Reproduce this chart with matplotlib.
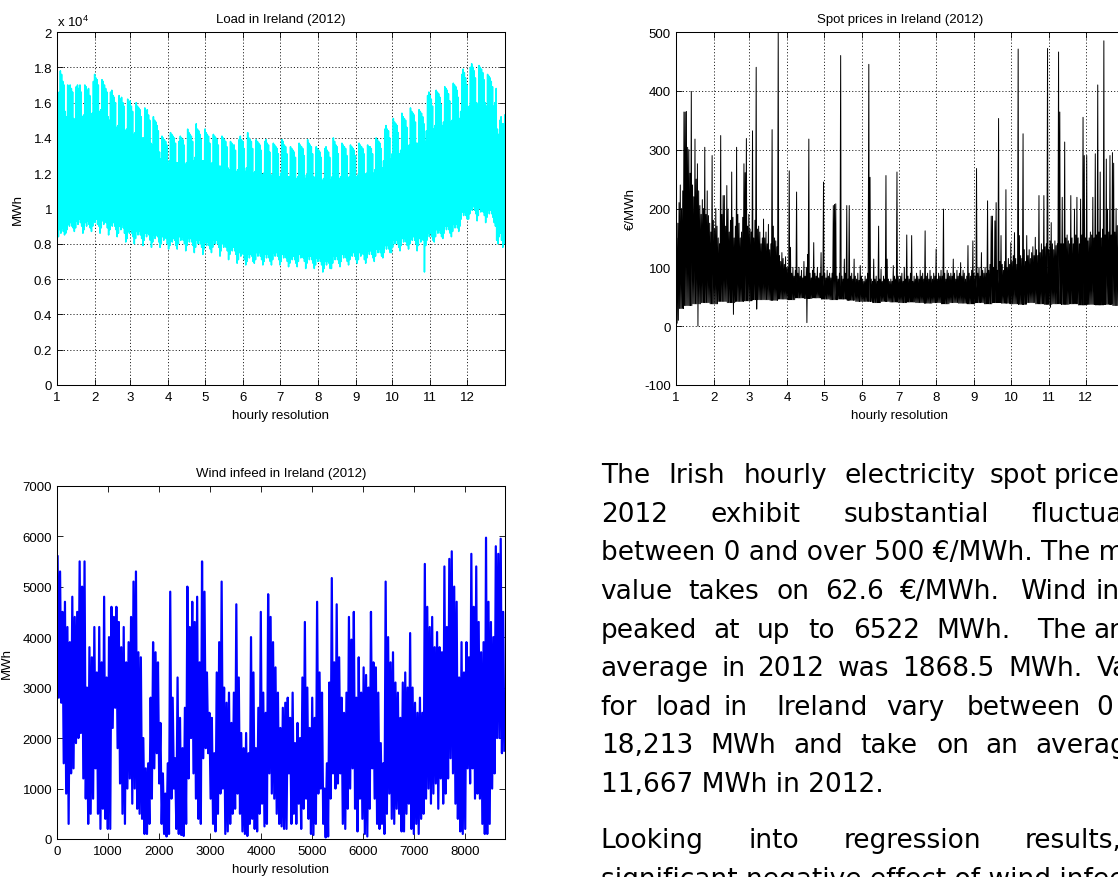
import numpy as np
import matplotlib
matplotlib.use('Agg')
import matplotlib.pyplot as plt
from matplotlib.ticker import FuncFormatter

plt.rcParams['font.family'] = 'Liberation Sans'
plt.rcParams['lines.scale_dashes'] = False
plt.rcParams['axes.unicode_minus'] = False

# ---- calendar 2012, hourly index starting at 1 ----
n_hours = 8784
month_start = [1, 745, 1441, 2185, 2905, 3649, 4369, 5113, 5857, 6577, 7321, 8041]
month_labels = ['1', '2', '3', '4', '5', '6', '7', '8', '9', '10', '11', '12']

# ---- load: daily evening peak, one row per week (Sun..Sat), in 1e4 MWh ----
load_peak_rows = [
    [1.52, 1.66, 1.78, 1.76, 1.72, 1.70, 1.55],
    [1.52, 1.70, 1.69, 1.70, 1.68, 1.66, 1.51],
    [1.50, 1.69, 1.70, 1.68, 1.70, 1.66, 1.52],
    [1.53, 1.70, 1.69, 1.67, 1.68, 1.64, 1.50],
    [1.54, 1.72, 1.76, 1.74, 1.73, 1.70, 1.55],
    [1.56, 1.73, 1.72, 1.70, 1.68, 1.66, 1.52],
    [1.50, 1.66, 1.67, 1.64, 1.63, 1.60, 1.46],
    [1.47, 1.64, 1.62, 1.63, 1.60, 1.58, 1.44],
    [1.45, 1.62, 1.60, 1.61, 1.58, 1.55, 1.42],
    [1.43, 1.60, 1.58, 1.57, 1.56, 1.52, 1.40],
    [1.40, 1.57, 1.55, 1.56, 1.53, 1.50, 1.37],
    [1.36, 1.52, 1.50, 1.49, 1.47, 1.44, 1.32],
    [1.28, 1.41, 1.40, 1.39, 1.38, 1.36, 1.25],
    [1.27, 1.43, 1.42, 1.41, 1.40, 1.37, 1.26],
    [1.26, 1.38, 1.41, 1.40, 1.39, 1.36, 1.25],
    [1.26, 1.45, 1.43, 1.42, 1.41, 1.38, 1.27],
    [1.29, 1.48, 1.45, 1.44, 1.42, 1.39, 1.27],
    [1.27, 1.45, 1.43, 1.42, 1.41, 1.37, 1.25],
    [1.26, 1.42, 1.41, 1.40, 1.39, 1.36, 1.24],
    [1.24, 1.41, 1.40, 1.39, 1.38, 1.35, 1.23],
    [1.22, 1.38, 1.37, 1.36, 1.36, 1.33, 1.21],
    [1.22, 1.39, 1.41, 1.39, 1.38, 1.34, 1.21],
    [1.23, 1.43, 1.40, 1.39, 1.38, 1.34, 1.20],
    [1.21, 1.39, 1.38, 1.37, 1.36, 1.33, 1.19],
    [1.20, 1.38, 1.39, 1.37, 1.36, 1.32, 1.19],
    [1.19, 1.37, 1.36, 1.35, 1.34, 1.31, 1.18],
    [1.20, 1.39, 1.38, 1.36, 1.35, 1.31, 1.18],
    [1.18, 1.35, 1.34, 1.33, 1.32, 1.29, 1.17],
    [1.18, 1.37, 1.36, 1.35, 1.34, 1.30, 1.17],
    [1.19, 1.39, 1.37, 1.36, 1.35, 1.31, 1.18],
    [1.17, 1.35, 1.34, 1.33, 1.32, 1.29, 1.16],
    [1.17, 1.34, 1.35, 1.33, 1.32, 1.29, 1.16],
    [1.18, 1.40, 1.38, 1.36, 1.35, 1.31, 1.17],
    [1.18, 1.37, 1.36, 1.35, 1.34, 1.30, 1.17],
    [1.18, 1.36, 1.35, 1.34, 1.33, 1.30, 1.18],
    [1.19, 1.37, 1.36, 1.35, 1.34, 1.31, 1.19],
    [1.20, 1.36, 1.35, 1.35, 1.34, 1.31, 1.20],
    [1.22, 1.40, 1.39, 1.38, 1.37, 1.34, 1.23],
    [1.27, 1.45, 1.47, 1.45, 1.44, 1.40, 1.28],
    [1.31, 1.51, 1.49, 1.48, 1.47, 1.43, 1.31],
    [1.33, 1.54, 1.52, 1.51, 1.50, 1.46, 1.34],
    [1.36, 1.57, 1.55, 1.54, 1.53, 1.49, 1.37],
    [1.37, 1.56, 1.55, 1.54, 1.52, 1.48, 1.38],
    [1.44, 1.64, 1.66, 1.64, 1.62, 1.58, 1.45],
    [1.47, 1.67, 1.66, 1.65, 1.63, 1.59, 1.47],
    [1.49, 1.69, 1.68, 1.67, 1.65, 1.61, 1.49],
    [1.50, 1.71, 1.70, 1.69, 1.67, 1.63, 1.51],
    [1.55, 1.76, 1.79, 1.77, 1.74, 1.70, 1.57],
    [1.58, 1.80, 1.82, 1.80, 1.78, 1.74, 1.60],
    [1.59, 1.81, 1.80, 1.79, 1.77, 1.73, 1.60],
    [1.58, 1.76, 1.75, 1.74, 1.72, 1.69, 1.58],
    [1.60, 1.68, 1.45, 1.42, 1.50, 1.52, 1.48],
    [1.48, 1.53],
]
# ---- load: night-time minimum of each day (1e4 MWh) ----
load_low_rows = [
    [0.80, 0.84, 0.88, 0.86, 0.89, 0.87, 0.85],
    [0.86, 0.88, 0.91, 0.90, 0.92, 0.90, 0.89],
    [0.87, 0.89, 0.93, 0.91, 0.94, 0.92, 0.90],
    [0.86, 0.88, 0.92, 0.90, 0.93, 0.91, 0.89],
    [0.87, 0.90, 0.93, 0.92, 0.94, 0.91, 0.90],
    [0.86, 0.89, 0.93, 0.91, 0.93, 0.92, 0.89],
    [0.85, 0.88, 0.92, 0.90, 0.92, 0.90, 0.88],
    [0.84, 0.86, 0.90, 0.88, 0.91, 0.89, 0.86],
    [0.81, 0.83, 0.87, 0.86, 0.88, 0.86, 0.84],
    [0.80, 0.83, 0.87, 0.85, 0.87, 0.85, 0.83],
    [0.79, 0.82, 0.86, 0.84, 0.86, 0.85, 0.82],
    [0.78, 0.81, 0.85, 0.83, 0.85, 0.84, 0.81],
    [0.78, 0.80, 0.84, 0.82, 0.84, 0.83, 0.80],
    [0.77, 0.79, 0.83, 0.81, 0.83, 0.82, 0.79],
    [0.77, 0.80, 0.84, 0.82, 0.84, 0.82, 0.80],
    [0.76, 0.79, 0.83, 0.81, 0.83, 0.81, 0.79],
    [0.75, 0.78, 0.82, 0.80, 0.82, 0.80, 0.78],
    [0.74, 0.77, 0.81, 0.79, 0.81, 0.79, 0.77],
    [0.75, 0.78, 0.82, 0.80, 0.82, 0.80, 0.78],
    [0.73, 0.76, 0.80, 0.78, 0.80, 0.78, 0.76],
    [0.71, 0.74, 0.78, 0.76, 0.78, 0.76, 0.74],
    [0.69, 0.71, 0.75, 0.73, 0.75, 0.74, 0.71],
    [0.68, 0.70, 0.74, 0.72, 0.74, 0.73, 0.70],
    [0.69, 0.71, 0.75, 0.73, 0.75, 0.73, 0.71],
    [0.68, 0.70, 0.74, 0.72, 0.74, 0.72, 0.70],
    [0.68, 0.71, 0.75, 0.73, 0.75, 0.73, 0.71],
    [0.68, 0.70, 0.74, 0.72, 0.74, 0.72, 0.70],
    [0.67, 0.69, 0.73, 0.71, 0.73, 0.71, 0.69],
    [0.67, 0.70, 0.74, 0.72, 0.74, 0.72, 0.70],
    [0.66, 0.69, 0.73, 0.71, 0.73, 0.71, 0.69],
    [0.66, 0.68, 0.72, 0.70, 0.72, 0.70, 0.68],
    [0.64, 0.66, 0.70, 0.68, 0.70, 0.69, 0.66],
    [0.66, 0.69, 0.73, 0.71, 0.73, 0.71, 0.69],
    [0.67, 0.70, 0.74, 0.72, 0.74, 0.72, 0.70],
    [0.68, 0.71, 0.75, 0.73, 0.75, 0.73, 0.71],
    [0.69, 0.71, 0.75, 0.73, 0.75, 0.74, 0.71],
    [0.69, 0.72, 0.76, 0.74, 0.76, 0.74, 0.72],
    [0.70, 0.73, 0.77, 0.75, 0.77, 0.75, 0.73],
    [0.72, 0.75, 0.79, 0.77, 0.79, 0.77, 0.75],
    [0.75, 0.78, 0.82, 0.80, 0.82, 0.80, 0.78],
    [0.76, 0.79, 0.83, 0.81, 0.83, 0.81, 0.79],
    [0.77, 0.80, 0.84, 0.82, 0.84, 0.82, 0.80],
    [0.76, 0.79, 0.83, 0.81, 0.83, 0.82, 0.64],
    [0.79, 0.82, 0.86, 0.84, 0.86, 0.84, 0.82],
    [0.81, 0.84, 0.88, 0.86, 0.88, 0.86, 0.84],
    [0.83, 0.86, 0.90, 0.88, 0.90, 0.88, 0.86],
    [0.84, 0.87, 0.91, 0.89, 0.91, 0.89, 0.87],
    [0.90, 0.94, 0.98, 0.96, 0.98, 0.96, 0.94],
    [0.94, 0.97, 1.01, 0.99, 1.01, 0.99, 0.97],
    [0.93, 0.96, 1.00, 0.98, 1.00, 0.98, 0.96],
    [0.92, 0.95, 0.99, 0.97, 0.99, 0.97, 0.95],
    [0.92, 0.90, 0.82, 0.80, 0.84, 0.86, 0.82],
    [0.78, 0.80],
]

# ---- spot price: daily maximum, one row per week (EUR/MWh) ----
spot_peak_rows = [
    [150, 175, 210, 240, 200, 230, 364],
    [364, 365, 304, 300, 260, 399, 240],
    [220, 318, 250, 276, 230, 205, 190],
    [215, 200, 304, 190, 230, 188, 175],
    [160, 290, 180, 165, 200, 170, 150],
    [140, 324, 190, 222, 222, 170, 239],
    [199, 160, 180, 262, 185, 150, 170],
    [304, 190, 175, 150, 160, 185, 276],
    [261, 319, 170, 190, 165, 160, 332],
    [150, 180, 440, 165, 170, 160, 140],
    [150, 182, 150, 160, 140, 173, 130],
    [140, 334, 170, 150, 145, 135, 500],
    [120, 110, 125, 115, 105, 118, 100],
    [100, 264, 134, 90, 100, 85, 95],
    [228, 90, 100, 85, 95, 82, 110],
    [85, 100, 122, 318, 90, 82, 95],
    [142, 90, 85, 100, 82, 90, 125],
    [85, 245, 90, 82, 95, 85, 90],
    [82, 90, 205, 207, 208, 85, 80],
    [90, 460, 85, 80, 114, 90, 205],
    [80, 205, 85, 90, 80, 114, 85],
    [80, 90, 78, 103, 85, 80, 76],
    [85, 80, 90, 445, 253, 80, 76],
    [114, 80, 85, 76, 170, 80, 97],
    [76, 85, 80, 256, 114, 80, 76],
    [80, 76, 103, 85, 80, 262, 85],
    [80, 85, 90, 76, 100, 80, 155],
    [85, 80, 90, 154, 76, 85, 80],
    [90, 85, 80, 95, 85, 90, 80],
    [162, 85, 90, 80, 95, 85, 80],
    [90, 85, 131, 80, 90, 85, 95],
    [85, 199, 90, 80, 95, 90, 85],
    [90, 85, 114, 90, 80, 95, 85],
    [90, 108, 85, 95, 90, 80, 85],
    [137, 90, 85, 95, 145, 90, 85],
    [268, 90, 100, 85, 125, 95, 90],
    [100, 90, 213, 95, 105, 187, 187],
    [100, 179, 210, 95, 353, 110, 154],
    [105, 95, 110, 232, 100, 115, 105],
    [142, 110, 120, 159, 115, 105, 471],
    [154, 120, 115, 327, 130, 110, 154],
    [120, 130, 115, 125, 135, 120, 151],
    [130, 120, 222, 125, 140, 130, 222],
    [135, 140, 472, 130, 145, 176, 140],
    [130, 145, 137, 140, 466, 364, 140],
    [219, 140, 313, 150, 155, 145, 140],
    [222, 150, 140, 199, 155, 219, 150],
    [140, 216, 155, 355, 290, 150, 290],
    [145, 150, 160, 155, 219, 150, 293],
    [155, 410, 160, 262, 150, 165, 485],
    [155, 284, 199, 160, 290, 155, 295],
    [277, 160, 200, 171, 150, 140, 155],
    [140, 160],
]
# weekly lower edge of the price band
spot_low_week = [30, 35, 38, 40, 38, 42, 40, 42, 43, 45,
                 45, 44, 46, 45, 48, 47, 48, 46, 45, 46,
                 44, 42, 42, 40, 42, 41, 40, 41, 40, 39,
                 40, 38, 40, 39, 38, 40, 38, 40, 39, 38,
                 37, 40, 38, 37, 38, 37, 38, 36, 37, 36,
                 37, 35, 36]
spot_dips = [(0, 0), (1, 5), (2, 10), (18, 0), (47, 20), (66, 29), (107, 6), (306, 32)]

# ---- wind infeed: max / min over two-day blocks (MWh) ----
wind_hi = [5600, 5300, 4500, 4700, 4200, 3900, 4800, 4400, 4500, 5500,
           5000, 5500, 3000, 3800, 3600, 4200, 3300, 4200, 3500, 4800,
           3200, 4000, 4600, 4400, 4600, 4300, 3800, 4200, 3500, 3900,
           4400, 5100, 5300, 3700, 3600, 2000, 1400, 1500, 2800, 3900,
           3700, 3500, 2300, 1300, 900, 1500, 4900, 2800, 1600, 3200,
           2400, 1800, 2600, 5000, 4200, 4700, 4300, 4800, 3500, 5500,
           4900, 3300, 2500,
           2400, 1700, 3300, 3900, 5100, 3000, 2700, 2900, 2300, 2900,
           4650, 3200, 2100, 1800, 2100, 1700, 4000, 3300, 1800, 2600,
           4500, 2900, 2500, 4850, 4400, 3900, 3400, 2900, 2200, 2600,
           2700, 2800, 2400, 2900, 1900, 2300, 2000, 3200, 4300, 3000,
           2200, 2800, 2400, 4700, 3300, 2900, 1000, 1500, 3100, 5170,
           3500, 4650, 3600, 2800, 2500, 2900, 4400, 3950, 4500, 2800,
           3600, 2900,
           3400, 3250, 3000, 4500, 3500, 3400, 2900, 1900, 1500, 5100,
           4000, 3500, 3700, 3100, 2900, 2400, 3100, 3300, 3000, 4080,
           3000, 2700, 2500, 2800, 2500, 5450, 4600, 4200, 4400, 3800,
           4100, 3800, 3700, 5400, 4200, 5550, 5700, 5000, 4700, 3200,
           3900, 3300, 3900, 3600, 5650, 4600, 5400, 4300, 3700, 3900,
           5970, 4700, 4300, 4000, 5800, 5650, 5950, 4500]
wind_lo = [2800, 2700, 1500, 900, 300, 1300, 1400, 1900, 2000, 2100,
           1200, 800, 300, 500, 800, 1400, 500, 200, 600, 400,
           200, 200, 2200, 2600, 1800, 1100, 500, 300, 1000, 1200,
           700, 1000, 600, 500, 400, 100, 100, 300, 800, 1400,
           1700, 1100, 300, 100, 50, 100, 800, 1000, 200, 100,
           80, 60, 300, 1200, 2000, 1300, 800, 400, 300, 1600,
           1800, 1700, 800,
           300, 150, 500, 900, 1000, 100, 150, 300, 500, 600,
           900, 500, 150, 100, 60, 300, 400, 200, 150, 500,
           700, 250, 300, 1300, 900, 800, 500, 300, 250, 200,
           200, 1300, 300, 500, 300, 700, 200, 600, 800, 400,
           100, 80, 300, 900, 1000, 300, 30, 50, 800, 1300,
           1000, 1100, 1300, 300, 200, 600, 1000, 1400, 600, 150,
           800, 400,
           100, 50, 600, 1400, 800, 300, 200, 300, 100, 500,
           900, 400, 300, 600, 500, 150, 150, 500, 700, 200,
           100, 300, 100, 400, 500, 800, 1000, 700, 900, 1100,
           600, 1200, 700, 900, 1200, 1600, 1300, 700, 400, 150,
           100, 200, 1400, 1100, 1400, 800, 900, 800, 300, 100,
           100, 300, 1000, 1300, 2000, 2000, 1700, 1750]


def zigzag(low, high, t_low, t_high):
    # alternate the low and high samples of each period into one trace
    x = np.empty(2 * len(low))
    y = np.empty(2 * len(low))
    x[0::2], y[0::2] = t_low, low
    x[1::2], y[1::2] = t_high, high
    return x, y


def matlab_axes(ax):
    ax.tick_params(direction='in', length=4, width=0.6, top=True, right=True,
                   labelsize=9.5, colors='k')
    ax.tick_params(axis='x', pad=4.5)
    ax.tick_params(axis='y', pad=3.5)
    for s in ax.spines.values():
        s.set_linewidth(0.75)


grid_kw = dict(color='k', linestyle=(0, (0.8, 1.5)), linewidth=0.6)

day0 = np.arange(366) * 24

fig = plt.figure(figsize=(11.18, 8.78), dpi=100)
W, H = 1118.0, 878.0

# ---------------- load ----------------
load_peak = np.concatenate([np.array(r, dtype=float) for r in load_peak_rows])
load_trough = np.concatenate([np.array(r, dtype=float) for r in load_low_rows])
xl, yl = zigzag(load_trough, load_peak, day0 + 5, day0 + 19)

ax1 = fig.add_axes([57 / W, 1 - 386 / H, 448 / W, 353 / H])
ax1.plot(xl, yl, color='#00ffff', linewidth=1.1)
ax1.set_xlim(1, n_hours)
ax1.set_ylim(0, 2)
ax1.set_xticks(month_start)
ax1.set_xticklabels(month_labels)
ax1.set_yticks(np.arange(0, 2.01, 0.2))
ax1.yaxis.set_major_formatter(FuncFormatter(lambda v, p: '%g' % round(v, 1)))
ax1.grid(True, **grid_kw)
ax1.set_axisbelow(True)
matlab_axes(ax1)
ax1.set_title('Load in Ireland (2012)', fontsize=9.5, pad=7)
ax1.set_xlabel('hourly resolution', fontsize=9.5)
ax1.set_ylabel('MWh', fontsize=9.5)
ax1.xaxis.set_label_coords(0.5, -0.068)
ax1.yaxis.set_label_coords(-0.074, 0.5)
ax1.text(0, 1.018, r'x 10$^{\mathregular{4}}$', transform=ax1.transAxes,
         fontsize=9.5, va='baseline', ha='left')

# ---------------- spot prices ----------------
spot_peak = np.concatenate([np.array(r, dtype=float) for r in spot_peak_rows])
spot_low = np.repeat(np.array(spot_low_week, dtype=float), 7)[:366]
for d, v in spot_dips:
    spot_low[d] = v
xs, ys = zigzag(spot_low, spot_peak, day0 + 5, day0 + 19)

ax2 = fig.add_axes([675.7 / W, 1 - 386 / H, 448 / W, 353 / H])
ax2.plot(xs, ys, color='k', linewidth=0.7)
ax2.set_xlim(1, n_hours)
ax2.set_ylim(-100, 500)
ax2.set_xticks(month_start)
ax2.set_xticklabels(month_labels)
ax2.set_yticks(np.arange(-100, 501, 100))
ax2.grid(True, **grid_kw)
ax2.set_axisbelow(True)
matlab_axes(ax2)
ax2.set_title('Spot prices in Ireland (2012)', fontsize=9.5, pad=7)
ax2.set_xlabel('hourly resolution', fontsize=9.5)
ax2.set_ylabel('€/MWh', fontsize=9.5)
ax2.xaxis.set_label_coords(0.5, -0.068)
ax2.yaxis.set_label_coords(-0.0875, 0.5)

# ---------------- wind ----------------
blk = np.arange(len(wind_hi)) * 48
xw, yw = zigzag(np.array(wind_lo, dtype=float), np.array(wind_hi, dtype=float),
                blk + 36, blk + 12)
order = np.argsort(xw, kind='stable')

ax3 = fig.add_axes([57 / W, 1 - 840 / H, 448 / W, 353.3 / H])
ax3.plot(xw[order], yw[order], color='#0000ff', linewidth=1.6)
ax3.set_xlim(0, n_hours)
ax3.set_ylim(0, 7000)
ax3.set_xticks(np.arange(0, 8001, 1000))
ax3.set_yticks(np.arange(0, 7001, 1000))
matlab_axes(ax3)
ax3.set_title('Wind infeed in Ireland (2012)', fontsize=9.5, pad=7)
ax3.set_xlabel('hourly resolution', fontsize=9.5)
ax3.set_ylabel('MWh', fontsize=9.5)
ax3.xaxis.set_label_coords(0.5, -0.068)
ax3.yaxis.set_label_coords(-0.098, 0.5)

# ---------------- running text beside the charts ----------------
para = [
    (483.3, [('The', 600.7), ('Irish', 668.3), ('hourly', 744), ('electricity', 845),
             ('spot', 990), ('prices', 1053.3)]),
    (521.9, [('2012', 600.7), ('exhibit', 710), ('substantial', 843.3),
             ('fluctuations', 1031.7)]),
    (560.5, [('between 0 and over 500 €/MWh. The mean', 600.7)]),
    (599.1, [('value', 600.7), ('takes', 688.3), ('on', 776.7), ('62.6', 825),
             ('€/MWh.', 900), ('Wind', 1020), ('infeed', 1095)]),
    (637.7, [('peaked', 600.7), ('at', 713.3), ('up', 756.7), ('to', 808.3),
             ('6522', 853.3), ('MWh.', 936.7), ('The', 1036.7), ('annual', 1093.3)]),
    (676.3, [('average', 600.7), ('in', 721.7), ('2012', 756.7), ('was', 838.3),
             ('1868.5', 901.7), ('MWh.', 1008.3), ('Values', 1096.7)]),
    (714.9, [('for', 600.7), ('load', 655), ('in', 723.3), ('Ireland', 776.7),
             ('vary', 886.7), ('between', 966.7), ('0', 1096.7)]),
    (753.5, [('18,213', 600.7), ('MWh', 710), ('and', 793.3), ('take', 860),
             ('on', 936.7), ('an', 985), ('average', 1035)]),
    (792.1, [('11,667 MWh in 2012.', 600.7)]),
    (848.3, [('Looking', 600.7), ('into', 748.3), ('regression', 843.3),
             ('results,', 1025)]),
    (886.9, [('significant negative effect of wind infeed', 600.7)]),
]
for base, words in para:
    for w, x in words:
        fig.text(x / W, 1 - base / H, w, fontsize=19, family='DejaVu Sans',
                 va='baseline', ha='left', color='k')

fig.savefig('out.png', dpi=100)
